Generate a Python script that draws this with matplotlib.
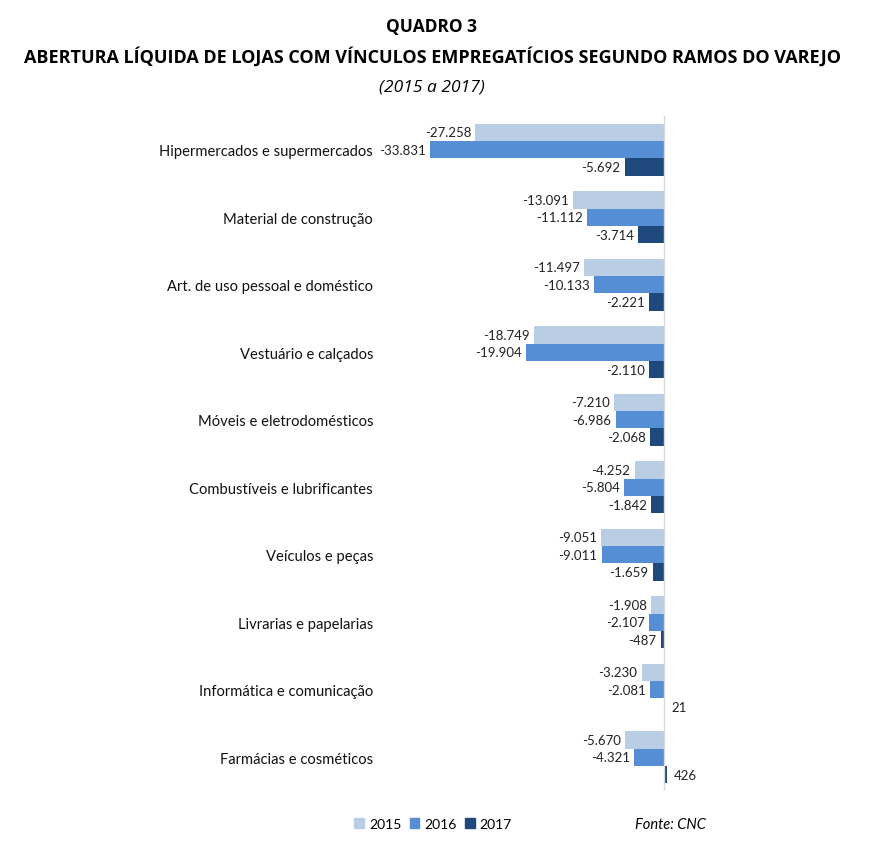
import matplotlib.pyplot as plt
from matplotlib.patches import Patch

plt.rcParams['font.family'] = ['Lato', 'DejaVu Sans']

categorias = [
    "Hipermercados e supermercados",
    "Material de construção",
    "Art. de uso pessoal e doméstico",
    "Vestuário e calçados",
    "Móveis e eletrodomésticos",
    "Combustíveis e lubrificantes",
    "Veículos e peças",
    "Livrarias e papelarias",
    "Informática e comunicação",
    "Farmácias e cosméticos",
]
anos = ["2015", "2016", "2017"]
v2015 = [-27258, -13091, -11497, -18749, -7210, -4252, -9051, -1908, -3230, -5670]
v2016 = [-33831, -11112, -10133, -19904, -6986, -5804, -9011, -2107, -2081, -4321]
v2017 = [-5692, -3714, -2221, -2110, -2068, -1842, -1659, -487, 21, 426]
cores = ["#B9CDE5", "#558ED5", "#1F497D"]


def fmt(v):
    return "{:,}".format(v).replace(",", ".")


W, H = 873, 853
fig = plt.figure(figsize=(W / 100, H / 100), dpi=100)
# axes in pixel coordinates: left 380, right 700, top 117, bottom 792
ax = fig.add_axes([380 / W, 1 - 792 / H, 320 / W, 675 / H])

escala = 234 / 33831  # px per unit
ax.set_xlim(-284 / escala, 36 / escala)
ax.set_ylim(len(categorias) - 0.5, -0.5)

h = 0.257
for i, (serie, cor) in enumerate(zip([v2015, v2016, v2017], cores)):
    off = (i - 1) * h
    for j, v in enumerate(serie):
        y = j + off
        ax.barh(y, v, height=h, color=cor)
        if v < 0:
            ax.annotate(fmt(v), (v, y), xytext=(-3, 0), textcoords="offset points",
                        ha="right", va="center", fontsize=9.5, color="#222222")
        else:
            ax.annotate(fmt(v), (v, y), xytext=(5, 0), textcoords="offset points",
                        ha="left", va="center", fontsize=9.5, color="#222222")

ax.axvline(0, color="#D9D9D9", lw=1)
ax.set_yticks(range(len(categorias)))
ax.set_yticklabels(categorias, fontsize=10.6, color="#111111")
ax.tick_params(axis="y", length=0, pad=5)
ax.set_xticks([])
for s in ax.spines.values():
    s.set_visible(False)

fig.text(432 / W, 1 - 27 / H, "QUADRO 3", ha="center", va="center",
         fontsize=12.5, fontweight="bold", family=["Open Sans", "DejaVu Sans"])
fig.text(432 / W, 1 - 57 / H,
         "ABERTURA LÍQUIDA DE LOJAS COM VÍNCULOS EMPREGATÍCIOS SEGUNDO RAMOS DO VAREJO",
         ha="center", va="center", fontsize=13, fontweight="bold",
         family=["Open Sans", "DejaVu Sans"])
fig.text(432 / W, 1 - 87 / H, "(2015 a 2017)", ha="center", va="center",
         fontsize=12.5, style="italic", family=["Open Sans", "DejaVu Sans"])

handles = [Patch(color=c, label=a) for c, a in zip(cores, anos)]
fig.legend(handles=handles, loc="center", bbox_to_anchor=(433 / W, 1 - 825 / H),
           ncol=3, frameon=False, fontsize=10, handlelength=0.7, handleheight=0.7,
           handletextpad=0.35, columnspacing=0.6)
fig.text(670 / W, 1 - 825 / H, "Fonte: CNC", ha="center", va="center",
         fontsize=10.5, style="italic")

fig.savefig("out.png", dpi=100, facecolor="white")
